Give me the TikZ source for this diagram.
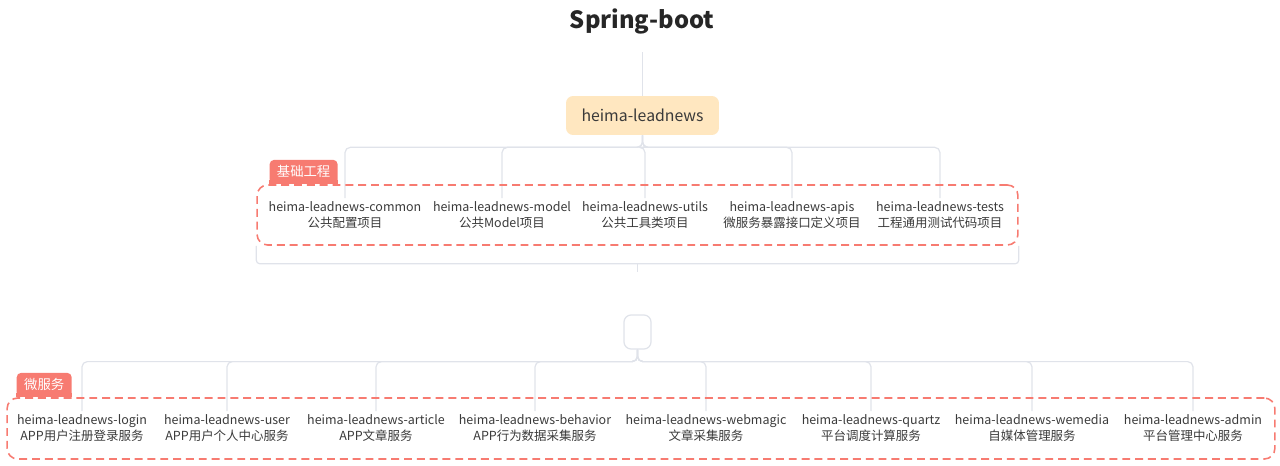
\documentclass[tikz,border=0pt]{standalone}
\usepackage{fontspec}
\setmainfont{Noto Sans CJK SC}
\usetikzlibrary{positioning}
\definecolor{linkgray}{HTML}{E0E3EA}
\definecolor{rootfill}{HTML}{FFE7C0}
\definecolor{tagred}{HTML}{F77B71}
\definecolor{txtgray}{HTML}{3A3A3A}

\begin{document}
\begin{tikzpicture}
[x=0.02cm, y=-0.02cm,
link/.style={draw=linkgray, line width=0.7pt, rounded corners=3pt},
item/.style={align=center, inner xsep=0pt, inner ysep=2pt, text=txtgray, font=\fontsize{7.1}{9.1}\selectfont},
grpbox/.style={draw=tagred, line width=0.9pt, rounded corners=6pt, dash pattern=on 4.5pt off 2.8pt, inner sep=0pt},
tagbox/.style={fill=tagred, text=white, rounded corners=2.5pt, inner sep=0pt, minimum height=0.48cm, font=\fontsize{7.6}{8}\selectfont}]

\useasboundingbox (0,0) rectangle (1280,466);

% title and root
\node[font=\fontsize{13.5}{15}\selectfont\bfseries, text=black!85] (title) at (642,21) {Spring-boot};
\coordinate (top) at (642.5,52);
\node[fill=rootfill, rounded corners=4pt, minimum width=3.06cm, minimum height=0.78cm, inner sep=0pt,
  text=txtgray, font=\fontsize{9}{10}\selectfont] (root) at (642.5,115.5) {heima-leadnews};
\draw[link] (top) -- (root.north);

% base modules
\foreach \x/\mod/\desc in {345/common/公共配置项目, 502/model/公共Model项目, 645/utils/公共工具类项目,
                           792/apis/微服务暴露接口定义项目, 940/tests/工程通用测试代码项目} {
  \node[item] (\mod) at (\x,215.5) {heima-leadnews-\mod\\\desc};
  \draw[link] (root.south) -- ++(0,12) -| (\mod.north);
}

\node[grpbox, minimum width=15.22cm, minimum height=1.2cm] (grp1) at (637.5,215) {};
\node[tagbox, minimum width=1.36cm, anchor=south west] (tag1) at ([xshift=0.26cm]grp1.north west) {基础工程};
\fill[tagred] (tag1.south west) rectangle ([yshift=2.5pt]tag1.south east);

% summary bracket
\coordinate (sum1) at (637.5,272);
\draw[link, rounded corners=2pt] (grp1.south west) -- ++(0,18) -| (grp1.south east);
\draw[link] (grp1.south) ++(0,18) -- (sum1);

% micro services
\node[draw=linkgray, line width=0.7pt, rounded corners=4pt, fill=white, minimum width=0.54cm, minimum height=0.68cm, inner sep=0pt] (svc) at (637.5,332) {};

\foreach \x/\mod/\desc in {82/login/APP用户注册登录服务, 227/user/APP用户个人中心服务, 376/article/APP文章服务,
                           535/behavior/APP行为数据采集服务, 706/webmagic/文章采集服务, 871/quartz/平台调度计算服务,
                           1032/wemedia/自媒体管理服务, 1193/admin/平台管理中心服务} {
  \node[item] (\mod) at (\x,428.5) {heima-leadnews-\mod\\\desc};
  \draw[link] (svc.south) -- ++(0,12) -| (\mod.north);
}

\node[grpbox, minimum width=25.36cm, minimum height=1.22cm] (grp2) at (641,428.5) {};
\node[tagbox, minimum width=1.1cm, anchor=south west] (tag2) at ([xshift=0.2cm]grp2.north west) {微服务};
\fill[tagred] (tag2.south west) rectangle ([yshift=2.5pt]tag2.south east);
\end{tikzpicture}
\end{document}
